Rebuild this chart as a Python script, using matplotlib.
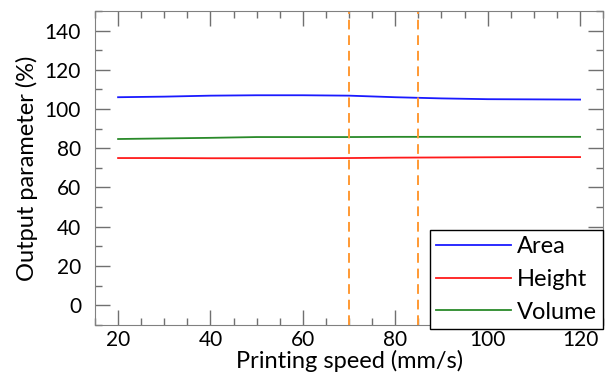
import matplotlib.pyplot as plt
from matplotlib.ticker import MultipleLocator

speed = [20, 30, 40, 50, 60, 70, 80, 90, 100, 110, 120]
area = [106.0, 106.3, 106.8, 107.0, 107.0, 106.8, 106.0, 105.4, 105.0, 104.9, 104.8]
height = [75.0, 75.0, 74.9, 74.9, 74.9, 75.0, 75.2, 75.3, 75.4, 75.5, 75.5]
volume = [84.7, 85.0, 85.3, 85.7, 85.7, 85.7, 85.8, 85.8, 85.8, 85.8, 85.8]
window = [70, 85]

plt.rcParams['font.family'] = ['Lato', 'DejaVu Sans']
plt.rcParams['font.size'] = 15

fig = plt.figure(figsize=(6.05, 3.89), dpi=100)
ax = fig.add_axes([0.157, 0.165, 0.84, 0.807])

ax.plot(speed, area, color='#1a1aff', lw=1.3, label='Area')
ax.plot(speed, height, color='#ff1a1a', lw=1.3, label='Height')
ax.plot(speed, volume, color='#2a8a2a', lw=1.3, label='Volume')
for v in window:
    ax.axvline(v, color='#ff9933', ls=(0, (5, 3)), lw=1.4)

ax.set_xlim(15, 125)
ax.set_ylim(-10, 150)
ax.xaxis.set_major_locator(MultipleLocator(20))
ax.xaxis.set_minor_locator(MultipleLocator(5))
ax.yaxis.set_major_locator(MultipleLocator(20))
ax.yaxis.set_minor_locator(MultipleLocator(10))
ax.set_yticks(range(0, 141, 20))
ax.tick_params(which='both', direction='in', top=True, right=True, colors='#707070', labelcolor='black')
ax.tick_params(which='major', length=10.5, width=1)
ax.tick_params(which='minor', length=5.3, width=1)
ax.tick_params(axis='y', pad=10)
ax.tick_params(axis='x', pad=4)
for s in ax.spines.values():
    s.set_color('#808080')

ax.set_xlabel('Printing speed (mm/s)', fontsize=17, labelpad=0)
ax.set_ylabel('Output parameter (%)', fontsize=17, labelpad=5)

leg = ax.legend(loc='lower right', bbox_to_anchor=(1.0, -0.012), fancybox=False, framealpha=1,
                edgecolor='black', handlelength=3.2, handletextpad=0.25, borderpad=0.25,
                labelspacing=0.5, borderaxespad=0, fontsize=17)
leg.get_frame().set_linewidth(1.0)

plt.savefig('out.png')
